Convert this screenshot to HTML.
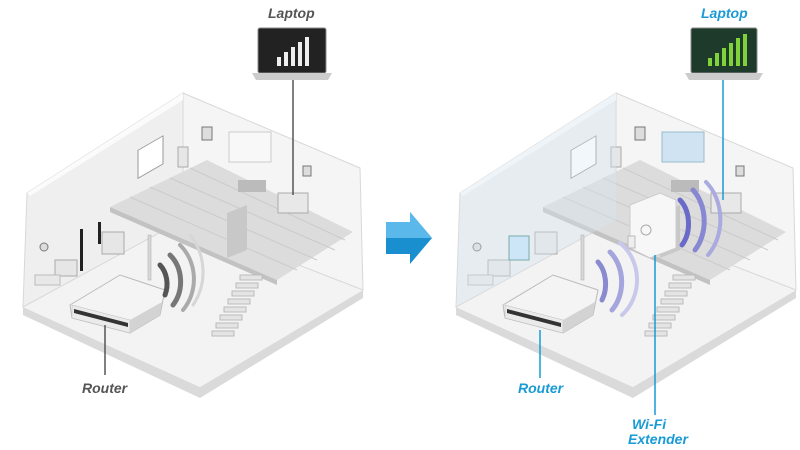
<!DOCTYPE html>
<html><head><meta charset="utf-8"><style>
html,body{margin:0;padding:0;background:#fff;width:800px;height:450px;overflow:hidden}
text{font-family:"Liberation Sans",sans-serif;font-weight:bold;font-style:italic;font-size:14px}
</style></head><body>
<svg width="800" height="450" viewBox="0 0 800 450" xmlns="http://www.w3.org/2000/svg">
<defs>
<g id="house">
  <polygon points="23,307 200,387 363,290 363,298 200,398 23,315" fill="#dadada"/>
  <polygon points="23,300 183,220 363,290 200,387 23,307" fill="#f3f3f3"/>
  <polygon points="23,307 27,193 183,93 183,220" fill="#efefef" stroke="#d8d8d8"/>
  <polygon points="183,93 360,168 363,290 183,220" fill="#f5f5f5" stroke="#d8d8d8"/>
  <polygon points="30,196 183,100 183,93 27,193" fill="#fbfbfb"/>
  <polygon points="110,207 207,160 353,232 277,280" fill="#dcdcdc"/>
  <g stroke="#cbcbcb" stroke-width="1">
    <line x1="130" y1="197" x2="297" y2="270"/><line x1="150" y1="187" x2="317" y2="260"/>
    <line x1="170" y1="178" x2="335" y2="250"/><line x1="190" y1="168" x2="345" y2="240"/>
  </g>
  <polygon points="110,207 277,280 277,285 110,212" fill="#c2c2c2"/>
  <polygon points="227,213 247,205 247,250 227,258" fill="#c8c8c8"/>
  <rect x="138" y="145" width="25" height="28" fill="#fff" stroke="#999" transform="skewY(-30) translate(0,85)"/>
  <rect x="202" y="127" width="10" height="13" fill="#ddd" stroke="#777"/>
  <rect x="229" y="132" width="42" height="30" fill="#f8f8f8" stroke="#ccc"/>
  <rect x="303" y="166" width="8" height="10" fill="#ddd" stroke="#777"/>
  <rect x="178" y="147" width="10" height="20" fill="#e6e6e6" stroke="#aaa"/>
  <rect x="238" y="180" width="28" height="12" fill="#bbb"/>
  <rect x="278" y="193" width="30" height="20" fill="#e8e8e8" stroke="#aaa"/>
  <g fill="#e4e4e4" stroke="#bbb">
    <rect x="240" y="275" width="22" height="5"/><rect x="236" y="283" width="22" height="5"/>
    <rect x="232" y="291" width="22" height="5"/><rect x="228" y="299" width="22" height="5"/>
    <rect x="224" y="307" width="22" height="5"/><rect x="220" y="315" width="22" height="5"/>
    <rect x="216" y="323" width="22" height="5"/><rect x="212" y="331" width="22" height="5"/>
  </g>
  <rect x="55" y="260" width="22" height="16" fill="#e6e6e6" stroke="#aaa"/>
  <rect x="102" y="232" width="22" height="22" fill="#e6e6e6" stroke="#aaa"/>
  <circle cx="44" cy="247" r="4" fill="#ddd" stroke="#777"/>
  <rect x="35" y="275" width="25" height="10" fill="#e8e8e8" stroke="#bbb"/>
</g>
<g id="router">
  <polygon points="70,305 120,275 165,290 160,315 130,333 72,318" fill="#f4f4f4" stroke="#bbb"/>
  <polygon points="72,305 130,320 130,333 72,318" fill="#eaeaea" stroke="#bbb" stroke-width="0.5"/>
  <polygon points="74,309 128,323 128,327 74,313" fill="#333"/>
  <polygon points="130,320 162,302 160,315 130,333" fill="#d3d3d3"/>
  <rect x="148" y="235" width="3" height="45" fill="#d8d8d8" stroke="#aaa" stroke-width="0.5"/>
</g>
</defs>

<use href="#house"/>
<rect x="80" y="229" width="3" height="42" fill="#222"/>
<rect x="98" y="222" width="3" height="22" fill="#222"/>
<use href="#router"/>
<g fill="none" stroke-linecap="round">
  <path d="M160,265 A20,25 0 0 1 165,295" stroke="#555" stroke-width="5"/>
  <path d="M170,255 A30,35 0 0 1 173,305" stroke="#777" stroke-width="5"/>
  <path d="M180,245 A40,45 0 0 1 183,310" stroke="#aaa" stroke-width="4"/>
  <path d="M190,235 A50,55 0 0 1 193,305" stroke="#d6d6d6" stroke-width="3"/>
</g>
<line x1="105" y1="325" x2="105" y2="375" stroke="#555" stroke-width="1.5"/>
<line x1="293" y1="80" x2="293" y2="195" stroke="#555" stroke-width="1.5"/>
<rect x="258" y="28" width="68" height="45" rx="2" fill="#222" stroke="#888"/>
<polygon points="252,73 332,73 328,80 256,80" fill="#ccc"/>
<g fill="#eee"><rect x="284" y="52" width="4" height="14"/><rect x="291" y="47" width="4" height="19"/><rect x="298" y="42" width="4" height="24"/><rect x="305" y="37" width="4" height="29"/><rect x="277" y="57" width="4" height="9"/></g>
<text x="268" y="18" fill="#555">Laptop</text>
<text x="82" y="393" fill="#555">Router</text>

<polygon points="386,222 410,222 410,212 432,238 410,264 410,254 386,254" fill="#1a8fd0"/>
<polygon points="386,222 410,222 410,212 432,238 386,238" fill="#5bb8ea"/>

<g transform="translate(433,0)">
  <use href="#house"/>
  <polygon points="23,307 27,193 183,93 183,220" fill="#dbe9f3" opacity="0.35"/>
  <rect x="76" y="236" width="20" height="24" fill="#cde6f7" stroke="#7aa"/>
  <rect x="229" y="132" width="42" height="30" fill="#cfe3f3" stroke="#9bc"/>
  <use href="#router"/>
</g>
<g fill="none" stroke-linecap="round">
  <path d="M598,262 A20,28 0 0 1 602,300" stroke="#8a8ad0" stroke-width="5"/>
  <path d="M610,252 A30,38 0 0 1 612,310" stroke="#a5a5dd" stroke-width="5"/>
  <path d="M620,243 A40,45 0 0 1 622,315" stroke="#c8c8ea" stroke-width="4"/>
  <path d="M680,200 A22,30 0 0 1 682,245" stroke="#6a6ac8" stroke-width="5"/>
  <path d="M693,190 A30,40 0 0 1 695,250" stroke="#8888d2" stroke-width="5"/>
  <path d="M706,182 A38,48 0 0 1 708,255" stroke="#aaaadf" stroke-width="4"/>
</g>
<polygon points="630,205 660,193 676,200 676,248 650,258 630,248" fill="#f7f7f7" stroke="#ccc"/>
<circle cx="646" cy="230" r="5" fill="none" stroke="#aaa"/>
<rect x="628" y="236" width="7" height="12" fill="#eee" stroke="#bbb"/>
<line x1="540" y1="330" x2="540" y2="378" stroke="#1a9ad6" stroke-width="1.5"/>
<line x1="655" y1="255" x2="655" y2="415" stroke="#1a9ad6" stroke-width="1.5"/>
<line x1="723" y1="80" x2="723" y2="200" stroke="#1a9ad6" stroke-width="1.5"/>
<rect x="691" y="28" width="66" height="45" rx="2" fill="#1e3a2a" stroke="#888"/>
<polygon points="685,73 763,73 759,80 689,80" fill="#ccc"/>
<g fill="#7fd23a"><rect x="708" y="58" width="4" height="8"/><rect x="715" y="53" width="4" height="13"/><rect x="722" y="48" width="4" height="18"/><rect x="729" y="43" width="4" height="23"/><rect x="736" y="38" width="4" height="28"/><rect x="743" y="34" width="4" height="32"/></g>
<text x="701" y="18" fill="#1a9ad6">Laptop</text>
<text x="518" y="393" fill="#1a9ad6">Router</text>
<text x="632" y="429" fill="#1a9ad6">Wi-Fi</text>
<text x="628" y="444" fill="#1a9ad6">Extender</text>
</svg>
</body></html>
